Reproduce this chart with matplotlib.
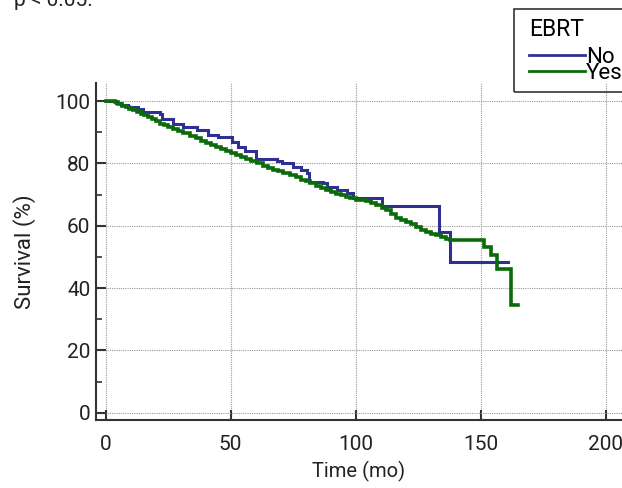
import matplotlib
matplotlib.use("Agg")
import matplotlib.pyplot as plt
from matplotlib.patches import Rectangle

plt.rcParams['font.family'] = ['Roboto', 'DejaVu Sans']

# Kaplan-Meier step points (time in months, survival in %)
no_time = [0, 4, 6, 9, 13, 15.1, 21.8, 22.5, 27.1, 31.1, 36.5, 41, 45, 50.5, 53,
           55.8, 60.2, 68.5, 70.5, 75, 78, 80.5, 81.5, 87.1, 88.5, 92.5, 96.5,
           98.9, 110.7, 133.5, 137.8, 161]
no_surv = [100, 99.5, 98.9, 98.2, 97.4, 96.4, 95.7, 94.1, 92.8, 91.8, 90.7, 89.0,
           88.5, 86.9, 85.3, 84.0, 81.4, 80.8, 80.0, 78.8, 77.8, 76.8, 74.1, 73.6,
           72.5, 71.4, 70.4, 68.8, 66.3, 57.9, 48.3, 48.3]

yes_time = [0, 3.8, 5, 6.5, 8, 9.5, 11, 12.5, 14, 15.5, 17, 18.5, 20, 21.8, 23.5,
            25, 27, 29, 31, 33.8, 36, 38, 40, 42, 44, 46, 48, 50, 52, 54, 56, 58,
            60.5, 63, 65, 67, 69, 71, 73.8, 76, 78, 80, 81.8, 84, 86, 88, 90, 92,
            94, 96, 97.8, 100, 104, 106, 108, 110.6, 112, 114, 116, 118, 120, 122,
            124, 126, 128, 130, 132, 134, 136, 137.8, 151.4, 154, 156.5, 162, 165]
yes_surv = [100, 99.6, 99.0, 98.5, 98.0, 97.5, 97.1, 96.5, 96.0, 95.5, 94.8, 94.3,
            93.6, 92.8, 92.2, 91.7, 91.0, 90.3, 89.7, 88.8, 88.0, 87.3, 86.6, 86.0,
            85.3, 84.6, 83.9, 83.2, 82.6, 82.0, 81.3, 80.7, 80.0, 79.2, 78.6, 78.0,
            77.4, 76.9, 76.3, 75.5, 74.8, 74.2, 73.6, 72.8, 72.2, 71.5, 70.9, 70.3,
            69.8, 69.2, 68.8, 68.2, 67.9, 67.2, 66.6, 65.7, 65.0, 63.8, 62.5, 61.8,
            61.2, 60.5, 59.6, 58.6, 58.0, 57.3, 56.9, 56.4, 55.8, 55.4, 53.3, 50.6,
            46.2, 34.6, 34.6]

x_ticks = [0, 50, 100, 150, 200]
y_ticks = [0, 20, 40, 60, 80, 100]

fig = plt.figure(figsize=(6.22, 4.88), dpi=100)
ax = fig.add_axes([96 / 622, 68 / 488, 526 / 622, 337 / 488])

ax.step(no_time, no_surv, where='post', color='#2e3192', lw=2.2,
        solid_joinstyle='miter', label='No')
ax.step(yes_time, yes_surv, where='post', color='#0b6b0b', lw=2.6,
        solid_joinstyle='miter', label='Yes')

ax.set_xlim(-3.8, 206.6)
ax.set_ylim(-2.35, 105.8)
ax.set_xticks(x_ticks)
ax.set_yticks(y_ticks)
ax.set_yticks([10, 30, 50, 70, 90], minor=True)
ax.grid(True, which='major', color='#999999', ls=(0, (1, 1)), lw=0.8)

for s in ['top', 'right']:
    ax.spines[s].set_visible(False)
for s in ['left', 'bottom']:
    ax.spines[s].set_linewidth(1.5)
    ax.spines[s].set_color('#333333')

ax.tick_params(axis='both', which='major', direction='in', length=7, width=1.5,
               colors='#333333', labelsize=15, labelcolor='#222222')
ax.tick_params(axis='x', pad=11)
ax.tick_params(axis='y', pad=4)
ax.tick_params(axis='y', which='minor', direction='in', length=4, width=1.2, colors='#333333')

ax.set_xlabel('Time (mo)', fontsize=14.5, color='#222222', labelpad=5)
ax.set_ylabel('Survival (%)', fontsize=16, color='#222222', labelpad=14)

# legend: frame drawn separately, partly running off the right edge like the original
fig.patches.append(Rectangle((514 / 622, 1 - 92 / 488), 120 / 622, 83 / 488,
                             transform=fig.transFigure, fill=False,
                             edgecolor='#333333', lw=1.2))
leg = fig.legend(loc='upper left', bbox_to_anchor=(529 / 622, 1 - 18 / 488),
                 title='EBRT', fontsize=16, title_fontsize=16.5, frameon=False,
                 handlelength=2.5, handletextpad=0.05, labelspacing=-0.2,
                 borderpad=0, borderaxespad=0)
leg._legend_box.align = 'left'
leg._legend_box.sep = 4
for line in leg.get_lines():
    line.set_linewidth(2.0)

fig.text(14 / 622, 1 - 6 / 488, 'p < 0.05.', fontsize=15, color='#222222',
         va='baseline', ha='left')

fig.savefig('out.png', dpi=100)
